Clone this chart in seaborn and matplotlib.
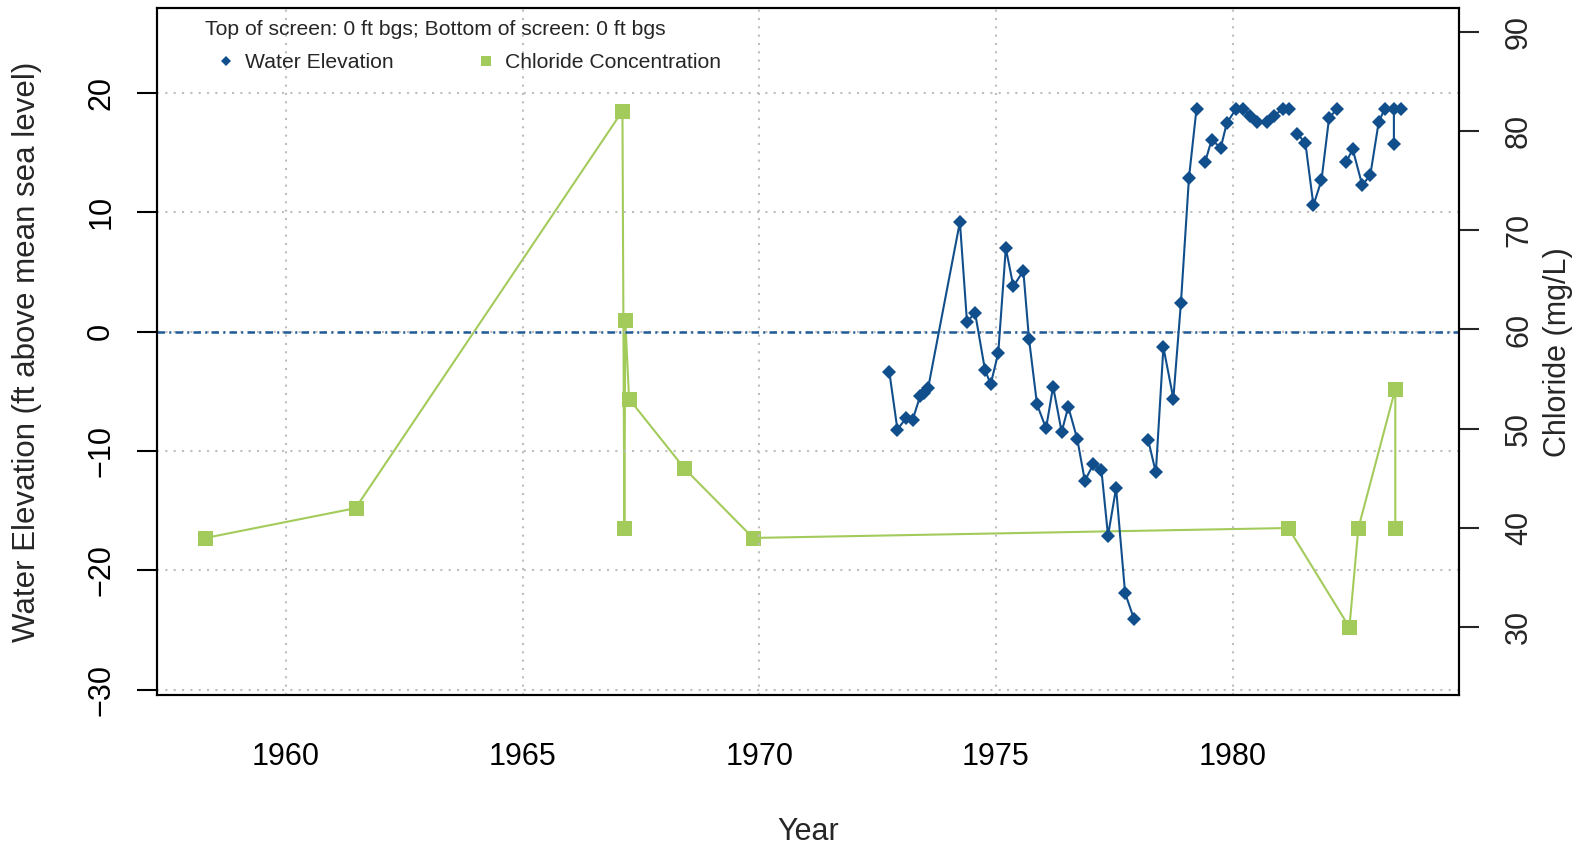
import numpy as np
import pandas as pd
import matplotlib
matplotlib.use("Agg")
import matplotlib.pyplot as plt
from matplotlib.lines import Line2D
import seaborn as sns

# Données (NaN = coupure de la ligne)
water_year = [1972.75, 1972.92, 1973.11, 1973.24, 1973.40, 1973.48, 1973.57,
              1974.24, 1974.39, 1974.56, 1974.77, 1974.89, 1975.05, 1975.21,
              1975.37, 1975.58, 1975.70, 1975.87, 1976.06, 1976.21, 1976.39,
              1976.53, 1976.72, 1976.88, 1977.06, 1977.23, 1977.37, 1977.54,
              1977.73, 1977.92, np.nan,
              1978.22, 1978.38, 1978.54, 1978.75, 1978.91, 1979.08, 1979.24, np.nan,
              1979.42, 1979.56, 1979.75, 1979.88, 1980.08, 1980.23, 1980.37,
              1980.52, 1980.72, 1980.87, 1981.07, 1981.20, np.nan,
              1981.37, 1981.54, 1981.71, 1981.88, 1982.04, 1982.21, np.nan,
              1982.40, 1982.54, 1982.74, 1982.91, 1983.09, 1983.22, 1983.41,
              1983.41, np.nan, 1983.57]
water_elev = [-3.4, -8.2, -7.2, -7.4, -5.4, -5.1, -4.7,
              9.2, 0.8, 1.6, -3.2, -4.4, -1.8, 7.0,
              3.8, 5.1, -0.6, -6.1, -8.1, -4.6, -8.4,
              -6.3, -9.0, -12.5, -11.1, -11.6, -17.1, -13.1,
              -21.9, -24.1, np.nan,
              -9.1, -11.8, -1.3, -5.6, 2.4, 12.9, 18.7, np.nan,
              14.2, 16.1, 15.4, 17.5, 18.7, 18.7, 18.1,
              17.6, 17.6, 18.1, 18.7, 18.7, np.nan,
              16.6, 15.8, 10.6, 12.7, 17.9, 18.7, np.nan,
              14.2, 15.3, 12.3, 13.1, 17.6, 18.7, 18.7,
              15.7, np.nan, 18.7]

chlor_year = [1958.30, 1961.47, 1967.11, 1967.15, 1967.17, 1967.25, 1968.42,
              1969.87, 1981.18, 1982.47, 1982.66, 1983.44, 1983.44]
chlor_val = [39, 42, 82, 40, 61, 53, 46, 39, 40, 30, 40, 54, 40]

x_ticks = [1960, 1965, 1970, 1975, 1980]
left_ticks = [-30, -20, -10, 0, 10, 20]
right_ticks = [30, 40, 50, 60, 70, 80, 90]

blue = "#114F8C"
green = "#A3CB5B"

# Tables pour seaborn
water = pd.DataFrame({"year": water_year, "elev": water_elev})
water["seg"] = water["elev"].isna().cumsum()
water = water.dropna()
chlor = pd.DataFrame({"year": chlor_year, "chloride": chlor_val})

sns.set_style("white")
plt.rcParams["font.family"] = ["Liberation Sans", "DejaVu Sans"]

fig = plt.figure(figsize=(15.88, 8.46), dpi=100)
ax = fig.add_axes([0.0987, 0.1781, 0.8199, 0.8124])
ax2 = ax.twinx()
ax.set_zorder(ax2.get_zorder() + 1)
ax.patch.set_visible(False)

# Chlorure (axe droit)
sns.lineplot(data=chlor, x="year", y="chloride", estimator=None, sort=False,
             color=green, lw=1.5, marker="s", markersize=10.8,
             markeredgewidth=0, ax=ax2)

# Niveau d'eau (axe gauche)
sns.lineplot(data=water, x="year", y="elev", units="seg", estimator=None,
             sort=False, color=blue, lw=1.5, marker="D", markersize=7.4,
             markeredgewidth=0, ax=ax)

ax.axhline(0, color="#1F5A96", lw=1.8, linestyle=(0, (3.0, 1.7, 0.8, 1.7)))

ax.set_xlim(1957.27, 1984.78)
ax.set_ylim(-30.48, 27.13)
ax2.set_ylim(23.15, 92.37)

ax.set_xticks(x_ticks)
ax.set_yticks(left_ticks)
ax2.set_yticks(right_ticks)
ax.set_yticklabels([str(v).replace("-", "\u2212") for v in left_ticks])
ax2.set_yticklabels([str(v) for v in right_ticks])

ax.grid(True, color="#BEBEBE", linestyle=(0, (1, 3)), lw=1.5)
ax2.grid(False)

for a in (ax, ax2):
    for s in a.spines.values():
        s.set_linewidth(1.5)
        s.set_color("black")
ax.tick_params(axis="both", direction="out", length=14.4, width=1.5,
               labelsize=22, colors="black")
ax.tick_params(axis="x", pad=19)
ax.tick_params(axis="y", pad=14.8, left=True)
ax2.tick_params(axis="y", direction="out", length=14.4, width=1.5,
                labelsize=22, pad=18.2, right=True)
plt.setp(ax.get_yticklabels(), rotation=90, va="center")
plt.setp(ax2.get_yticklabels(), rotation=90, va="center")

ax.set_xlabel("Year", fontsize=22)
ax.set_ylabel("Water Elevation (ft above mean sea level)", fontsize=22.5)
ax2.set_ylabel("Chloride (mg/L)", fontsize=22)
ax.xaxis.set_label_coords(0.5, -0.1771)
ax.yaxis.set_label_coords(-0.0885, 0.5)
ax2.yaxis.set_label_coords(1.0647, 0.5)

# Légende
ax.text(0.0371, 0.9689, "Top of screen: 0 ft bgs; Bottom of screen: 0 ft bgs",
        transform=ax.transAxes, fontsize=15.2, ha="left", va="center")
handles = [
    Line2D([], [], ls="none", marker="D", markersize=4.7, color=blue, mew=0),
    Line2D([], [], ls="none", marker="s", markersize=7.9, color=green, mew=0),
]
ax.legend(handles, ["Water Elevation", "Chloride Concentration"], ncol=2,
          loc="center left", bbox_to_anchor=(0.0468, 0.9202), frameon=False,
          fontsize=15.2, handlelength=0.8, handletextpad=0.5,
          columnspacing=3.95, borderpad=0, borderaxespad=0)

fig.savefig("out.png", dpi=100)
